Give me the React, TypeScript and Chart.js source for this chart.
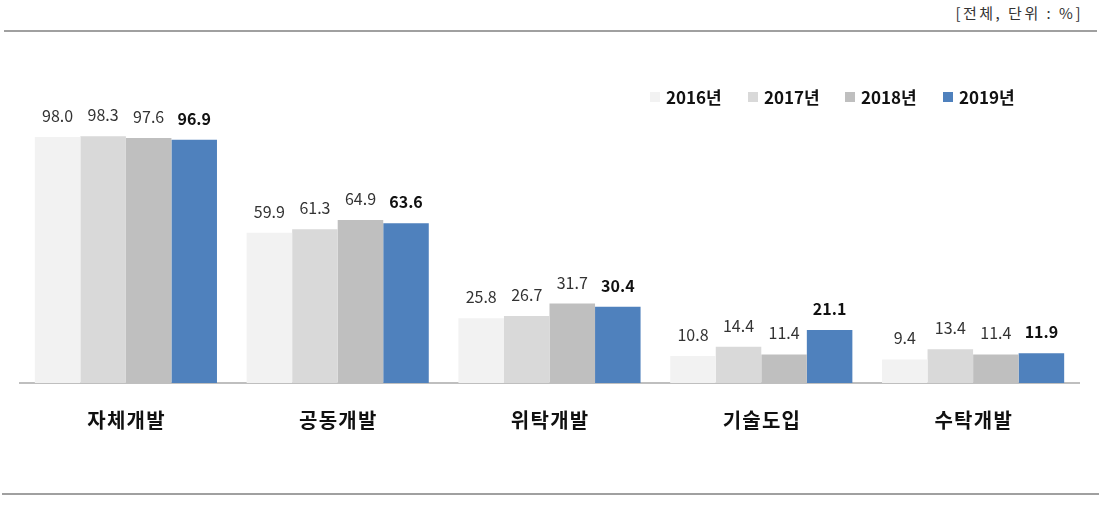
import React, { useEffect, useRef } from "react";
import { Chart, registerables } from "chart.js";

Chart.register(...registerables);

const categories = ["자체개발", "공동개발", "위탁개발", "기술도입", "수탁개발"];
const years = ["2016년", "2017년", "2018년", "2019년"];
const v2016 = [98.0, 59.9, 25.8, 10.8, 9.4];
const v2017 = [98.3, 61.3, 26.7, 14.4, 13.4];
const v2018 = [97.6, 64.9, 31.7, 11.4, 11.4];
const v2019 = [96.9, 63.6, 30.4, 21.1, 11.9];
const colors = ["#F2F2F2", "#D9D9D9", "#BFBFBF", "#4F81BD"];
const headerText = "[전체, 단위 : %]";

const FONT = "'Noto Sans CJK KR', 'Malgun Gothic', sans-serif";

const valueLabels = {
  id: "valueLabels",
  afterDatasetsDraw(chart: any) {
    const ctx = chart.ctx;
    ctx.save();
    chart.data.datasets.forEach((ds: any, di: number) => {
      const meta = chart.getDatasetMeta(di);
      const last = di === chart.data.datasets.length - 1;
      ctx.font = (last ? "bold " : "") + "16px " + FONT;
      ctx.fillStyle = last ? "#111" : "#333";
      ctx.textAlign = "center";
      ctx.textBaseline = "middle";
      meta.data.forEach((el: any, i: number) => {
        ctx.fillText(Number(ds.data[i]).toFixed(1), el.x, el.y - 21);
      });
    });
    ctx.restore();
  },
};

const customLegend = {
  id: "customLegend",
  afterDraw(chart: any) {
    const ctx = chart.ctx;
    ctx.save();
    const starts = [650, 748, 845, 943];
    const y = 97;
    chart.data.datasets.forEach((ds: any, di: number) => {
      const x = starts[di];
      ctx.fillStyle = ds.backgroundColor;
      ctx.fillRect(x, y - 5, 10, 10);
      ctx.font = "bold 17px " + FONT;
      ctx.fillStyle = "#111";
      ctx.textAlign = "left";
      ctx.textBaseline = "middle";
      ctx.fillText(ds.label, x + 16, y + 1);
    });
    ctx.restore();
  },
};

export default function App() {
  const ref = useRef<HTMLCanvasElement>(null);
  useEffect(() => {
    const series = [v2016, v2017, v2018, v2019];
    const chart = new Chart(ref.current!, {
      type: "bar",
      data: {
        labels: categories,
        datasets: years.map((y, i) => ({
          label: y,
          data: series[i],
          backgroundColor: colors[i],
          borderWidth: 0,
          barPercentage: 1,
          categoryPercentage: 0.86,
        })),
      },
      options: {
        responsive: false,
        animation: false,
        layout: { padding: { left: 20, right: 26, top: 132, bottom: 0 } },
        plugins: { legend: { display: false }, tooltip: { enabled: false } },
        scales: {
          x: {
            grid: { display: false, drawTicks: false },
            border: { display: true, color: "#BFBFBF", width: 2 },
            ticks: {
              color: "#111",
              padding: 25,
              font: { family: FONT, size: 20, weight: "bold" },
              callback: (_v: any, i: number) => categories[i].split("").join("\u200A"),
            },
            afterFit: (scale: any) => {
              scale.height = 124;
            },
          },
          y: {
            display: false,
            min: 0,
            max: 100,
          },
        },
      },
      plugins: [valueLabels, customLegend],
    } as any);
    return () => chart.destroy();
  }, []);

  return (
    <div style={{ position: "fixed", left: 0, top: 0, width: 1105, height: 507, background: "#fff" }}>
      <div
        style={{
          position: "absolute",
          right: 22,
          top: 2,
          fontFamily: FONT,
          fontSize: 15,
          color: "#333",
          letterSpacing: 2.5,
          whiteSpace: "pre",
        }}
      >
        {headerText}
      </div>
      <div style={{ position: "absolute", left: 4, width: 1093, top: 30, height: 2, background: "#A0A0A0" }} />
      <canvas ref={ref} width={1105} height={507} style={{ position: "absolute", left: 0, top: 0 }} />
      <div style={{ position: "absolute", left: 2, width: 1097, top: 493, height: 2, background: "#A0A0A0" }} />
    </div>
  );
}
